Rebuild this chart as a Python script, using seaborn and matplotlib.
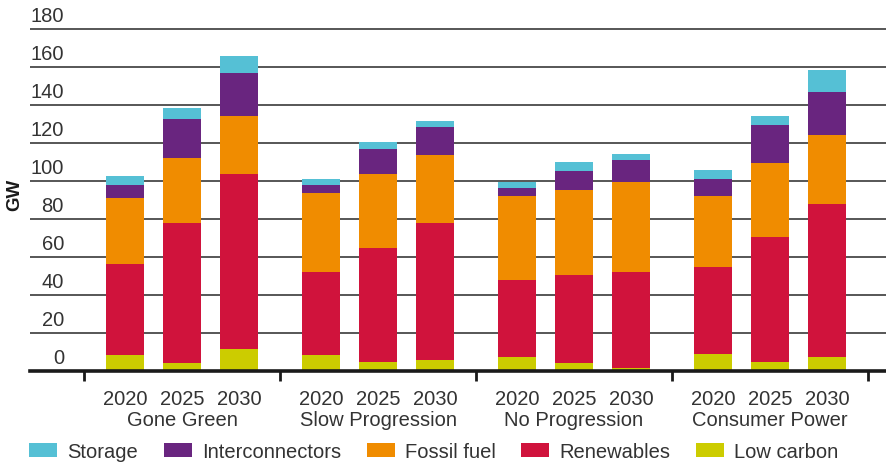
import matplotlib
matplotlib.use("Agg")
import matplotlib.pyplot as plt
import matplotlib.transforms as mtransforms
from matplotlib.patches import Patch
import numpy as np
import pandas as pd
import seaborn as sns

# ---------------- data ----------------
scenarios = ["Gone Green", "Slow Progression", "No Progression", "Consumer Power"]
years = ["2020", "2025", "2030"]
series = ["Storage", "Interconnectors", "Fossil fuel", "Renewables", "Low carbon"]

low_carbon = [8.3, 4.0, 11.4, 8.3, 4.6, 5.6, 7.2, 4.0, 1.4, 8.8, 4.6, 7.2]
renewables = [47.9, 73.7, 92.1, 43.6, 60.0, 72.1, 40.5, 46.4, 50.5, 45.8, 65.8, 80.5]
fossil_fuel = [34.6, 34.2, 30.6, 41.5, 38.9, 35.8, 44.2, 44.7, 47.4, 37.3, 38.9, 36.4]
interconnectors = [6.9, 20.6, 22.6, 4.3, 13.2, 14.8, 4.2, 10.0, 11.6, 9.0, 20.0, 22.6]
storage = [4.8, 5.8, 8.9, 3.2, 3.5, 3.1, 3.2, 4.7, 3.2, 4.7, 4.8, 11.6]

y_ticks = [0, 20, 40, 60, 80, 100, 120, 140, 160, 180]

colors = {
    "Storage": "#55c0d5",
    "Interconnectors": "#69257f",
    "Fossil fuel": "#f08c00",
    "Renewables": "#d0133c",
    "Low carbon": "#cccc00",
}

# ---------------- layout ----------------
W, H = 886, 464
G = 196 / 57.0  # group spacing in bar-slot units
positions = [g * G + k for g in range(len(scenarios)) for k in range(len(years))]

df = pd.DataFrame({
    "pos": positions,
    "Low carbon": low_carbon,
    "Renewables": renewables,
    "Fossil fuel": fossil_fuel,
    "Interconnectors": interconnectors,
    "Storage": storage,
})
stack_order = ["Low carbon", "Renewables", "Fossil fuel", "Interconnectors", "Storage"]
cum = np.zeros(len(df))
for s in stack_order:
    cum = cum + df[s].to_numpy()
    df["cum_" + s] = cum

sns.set_style("white")
plt.rcParams["font.family"] = ["Liberation Sans", "DejaVu Sans"]
text_color = "#333333"
fs = 14.5

fig = plt.figure(figsize=(W / 100, H / 100), dpi=100)
ymax = 182
px_per_unit = 1.9
ax_h = ymax * px_per_unit
axis_y = 371.5
ax = fig.add_axes([30 / W, 1 - axis_y / H, 856 / W, ax_h / H])

for s in reversed(stack_order):
    sns.barplot(data=df, x="pos", y="cum_" + s, native_scale=True, width=0.667,
                color=colors[s], saturation=1, errorbar=None, linewidth=0, ax=ax)

ax.set_ylim(0, ymax)
ax.set_xlim((30 - 125) / 57.0, (886 - 125) / 57.0)
ax.set_xlabel("")
ax.set_ylabel("")

# grid
ax.set_yticks(y_ticks)
ax.yaxis.grid(True, color="#3a3a3a", linewidth=1.2)
ax.xaxis.grid(False)
ax.set_axisbelow(True)
ax.tick_params(axis="y", length=0, labelleft=False)

for sp in ["top", "right", "left"]:
    ax.spines[sp].set_visible(False)
ax.spines["bottom"].set_linewidth(2.6)
ax.spines["bottom"].set_color("#1a1a1a")

# y labels above grid lines
ytrans = mtransforms.blended_transform_factory(ax.transAxes, ax.transData)
ytrans = mtransforms.offset_copy(ytrans, fig=fig, x=0, y=13, units="dots")
for v in y_ticks:
    ax.text(34 / 856, v, str(v), transform=ytrans, ha="right", va="center",
            fontsize=fs, color=text_color)

# x ticks: group boundaries (major, no labels)
bounds = [g * G + 1 - G / 2 for g in range(len(scenarios) + 1)]
ax.set_xticks(bounds)
ax.set_xticklabels([""] * len(bounds))
ax.tick_params(axis="x", which="major", direction="out", length=7, width=2,
               color="#1a1a1a", bottom=True)

# year labels and scenario labels (baseline-anchored)
xtrans = mtransforms.blended_transform_factory(ax.transData, ax.transAxes)
year_labels = [y for _ in scenarios for y in years]
for p, lab in zip(positions, year_labels):
    ax.text(p, -(405 - axis_y) / ax_h, lab, transform=xtrans, ha="center",
            va="baseline", fontsize=fs, color=text_color)
for g, name in enumerate(scenarios):
    ax.text(g * G + 1, -(426 - axis_y) / ax_h, name, transform=xtrans, ha="center",
            va="baseline", fontsize=fs, color=text_color)

fig.text(15 / W, 1 - 195 / H, "GW", rotation=90, ha="center", va="center",
         fontsize=13.5, fontweight="bold", color="#1a1a1a")

handles = [Patch(facecolor=colors[s], edgecolor="none") for s in series]
leg = fig.legend(handles, series, loc="center left",
                 bbox_to_anchor=(29 / W, 1 - 452.5 / H), ncol=5, frameon=False,
                 handlelength=1.4, handleheight=0.7, handletextpad=0.5,
                 columnspacing=1.27, borderpad=0, borderaxespad=0, fontsize=fs)
for t in leg.get_texts():
    t.set_color(text_color)

fig.savefig("out.png", dpi=100)
